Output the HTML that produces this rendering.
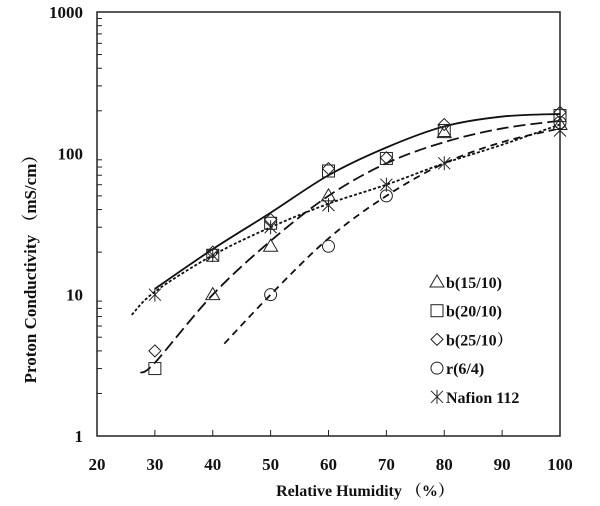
<!DOCTYPE html>
<html><head><meta charset="utf-8"><style>
body{margin:0;background:#fff;width:600px;height:501px;overflow:hidden}
text{font-family:"Liberation Serif","Noto Serif CJK SC",serif;font-weight:bold;fill:#111}
</style></head><body>
<svg id="chart" width="600" height="501" xmlns="http://www.w3.org/2000/svg">
<g id="axes"></g><g id="curves"></g><g id="marks"></g><g id="legend"></g>
</svg>
<script>
const xTicks=[20,30,40,50,60,70,80,90,100];
const yTicks=[1,10,100,1000];
const triX=[40,50,60,80,100], triY=[10,22,50,140,160];
const sqX=[30,40,50,60,70,80,100], sqY=[3,19,32,75,92,145,185];
const diaX=[30,40,50,60,70,80,100], diaY=[4,20,34,78,93,160,195];
const cirX=[50,60,70,100], cirY=[10,22,50,165];
const nafX=[30,40,50,60,70,80,100], nafY=[10,19,30,43,60,85,145];
const fitSolidX=[30,40,50,60,70,80,90,100], fitSolidY=[11,21,38,70,110,155,182,190];
const fitNafX=[26,30,40,50,60,70,80,90,100], fitNafY=[7.2,10.5,19,30,44,60,85,115,160];
const fitLongX=[27.5,30,40,50,60,70,80,90,100], fitLongY=[2.8,3.3,10,24,50,85,120,150,170];
const fitMedX=[42,50,60,70,80,90,100], fitMedY=[4.5,10,25,50,85,120,150];
const L=97,R=560,T=12,B=436;
const sx=v=>L+(v-20)/80*(R-L);
const sy=v=>B-Math.log10(v)/3*(B-T);
const NS="http://www.w3.org/2000/svg";
function el(t,a,p){const e=document.createElementNS(NS,t);for(const k in a)e.setAttribute(k,a[k]);document.getElementById(p).appendChild(e);return e;}
let f=el('rect',{x:L,y:T,width:R-L,height:B-T,fill:'none',stroke:'#222','stroke-width':1.5},'axes');


xTicks.forEach(v=>{
 if(v>20&&v<100){const t=el('line',{x1:sx(v),x2:sx(v),y1:B,y2:B-6,stroke:'#222'},'axes');
 
 }
 const l=el('text',{x:sx(v),y:470,'text-anchor':'middle','font-size':17},'axes');l.textContent=v;
 
 
});
yTicks.forEach((v,i)=>{
 const l=el('text',{x:83,y:sy(v)+6,'text-anchor':'end','font-size':17},'axes');l.textContent=v;
 
 
 if(i<3)for(let m=2;m<=9;m++){const t=el('line',{x1:L,x2:L+5,y1:sy(v*m),y2:sy(v*m),stroke:'#222'},'axes');
 
 }
});
let xt=el('text',{x:365,y:496,'text-anchor':'middle','font-size':16},'axes');xt.textContent='Relative Humidity （%）';


let yt=el('text',{x:0,y:0,'text-anchor':'middle','font-size':17,transform:'translate(36,265) rotate(-90)'},'axes');yt.textContent='Proton Conductivity （mS/cm）';


function curve(xs,ys,dash,name){
 const p=xs.map((x,i)=>[sx(x),sy(ys[i])]);let d='M'+p[0];
 for(let i=0;i<p.length-1;i++){const p0=p[i-1]||p[i],p1=p[i],p2=p[i+1],p3=p[i+2]||p2;
 d+=` C${p1[0]+(p2[0]-p0[0])/6},${p1[1]+(p2[1]-p0[1])/6} ${p2[0]-(p3[0]-p1[0])/6},${p2[1]-(p3[1]-p1[1])/6} ${p2[0]},${p2[1]}`;}
 const e=el('path',{d,fill:'none',stroke:'#111','stroke-width':1.8,'stroke-dasharray':dash},'curves');
 
 
}
curve(fitSolidX,fitSolidY,'none','fit-solid');
curve(fitNafX,fitNafY,'3,2','fit-nafion');
curve(fitLongX,fitLongY,'12,5','fit-long-dash');
curve(fitMedX,fitMedY,'7,5','fit-medium-dash');
function marker(type,x,y,g){
 const s={fill:'none',stroke:'#222','stroke-width':1};let e;
 if(type==='tri')e=el('path',Object.assign({d:`M${x},${y-7}L${x+7},${y+5}L${x-7},${y+5}Z`},s),g);
 else if(type==='sq')e=el('rect',Object.assign({x:x-6,y:y-6,width:12,height:12},s),g);
 else if(type==='dia')e=el('path',Object.assign({d:`M${x},${y-6}L${x+6},${y}L${x},${y+6}L${x-6},${y}Z`},s),g);
 else if(type==='cir')e=el('circle',Object.assign({cx:x,cy:y,r:6},s),g);
 else e=el('path',Object.assign({d:`M${x-6},${y-6}L${x+6},${y+6}M${x+6},${y-6}L${x-6},${y+6}M${x},${y-7}L${x},${y+7}`},s),g);
 return e;
}
[['tri',triX,triY],['sq',sqX,sqY],['dia',diaX,diaY],['cir',cirX,cirY],['naf',nafX,nafY]].forEach(([t,xs,ys])=>{
 xs.forEach((x,i)=>{const e=marker(t,sx(x),sy(ys[i]),'marks');
 
 });
});
const legNames=['b(15/10)','b(20/10)','b(25/10）','r(6/4)','Nafion 112'];
const legTypes=['tri','sq','dia','cir','naf'];
legNames.forEach((n,i)=>{const y=282+i*28.7;
 const m=marker(legTypes[i],437,y,'legend');
 
 
 const t=el('text',{x:446,y:y+6,'font-size':16},'legend');t.textContent=n;
 
 
});
</script>
</body></html>
